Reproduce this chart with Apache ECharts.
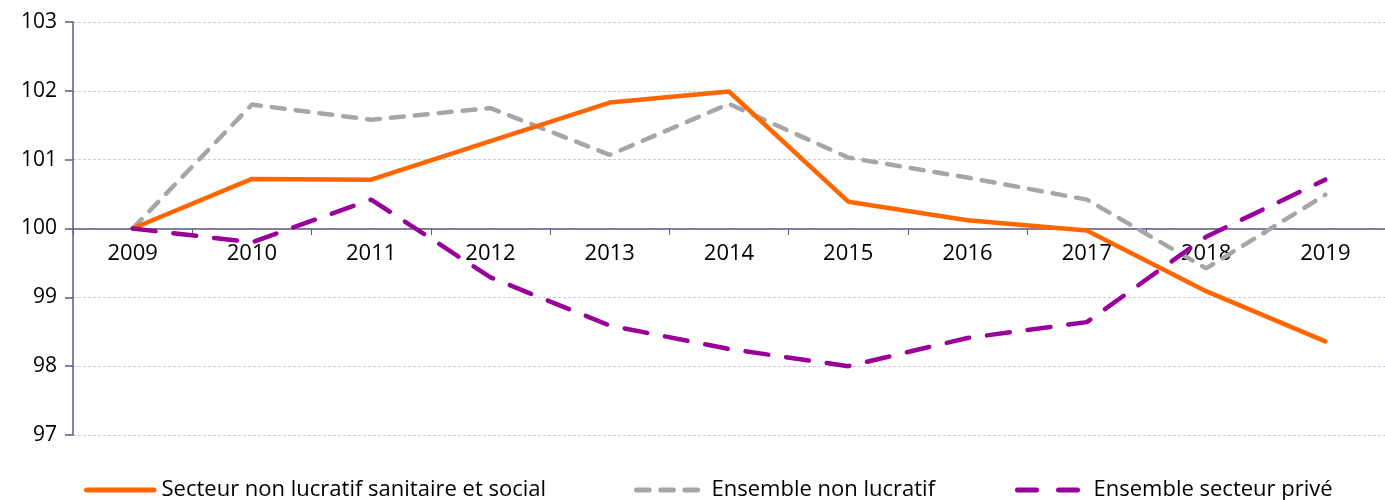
<!DOCTYPE html>
<html>
<head>
    <meta charset="utf-8">
    <title>Indices</title>
    <script src="https://cdn.jsdelivr.net/npm/echarts@6/dist/echarts.min.js"></script>
    <style>
        html, body { margin: 0; padding: 0; background: #fff; }
        #chart { width: 1385px; height: 500px; }
    </style>
</head>
<body>
    <div id="chart"></div>
    <script>
        const years = ['2009', '2010', '2011', '2012', '2013', '2014', '2015', '2016', '2017', '2018', '2019'];
        const sanitaireSocial = [100, 100.72, 100.71, 101.27, 101.83, 101.99, 100.39, 100.12, 99.97, 99.09, 98.36];
        const nonLucratif = [100, 101.80, 101.58, 101.75, 101.07, 101.81, 101.03, 100.74, 100.42, 99.42, 100.49];
        const secteurPrive = [100, 99.80, 100.42, 99.29, 98.59, 98.25, 98.00, 98.41, 98.64, 99.88, 100.71];
        const names = ['Secteur non lucratif sanitaire et social', 'Ensemble non lucratif', 'Ensemble secteur privé'];

        const font = '"Open Sans", "Noto Sans", sans-serif';
        const axisColor = '#5b5b86';

        const chart = echarts.init(document.getElementById('chart'));

        // one legend block per series so each icon sits where the original has it
        function legendAt(name, left, width, dash) {
            return {
                data: [name],
                left: left,
                top: 479,
                padding: 0,
                itemWidth: width,
                itemHeight: 14,
                itemStyle: { opacity: 0 },
                lineStyle: { width: 5, cap: 'round', type: dash },
                textStyle: { color: '#000', fontSize: 22, fontFamily: font }
            };
        }

        const option = {
            animation: false,
            grid: { left: 73, right: -6, top: 22, bottom: 65 },
            legend: [
                legendAt(names[0], 84, 70, [67.5, 60]),
                legendAt(names[1], 634, 70, [12.7, 11.5]),
                legendAt(names[2], 1015, 71, [19, 22])
            ],
            xAxis: {
                type: 'category',
                data: years,
                boundaryGap: true,
                offset: -206,
                axisLine: { onZero: false, lineStyle: { color: axisColor, width: 1.5 } },
                axisTick: { show: true, length: 6, lineStyle: { color: axisColor } },
                axisLabel: { color: '#000', fontSize: 22, fontFamily: font, margin: 14 },
                splitLine: { show: false }
            },
            yAxis: {
                type: 'value',
                min: 97,
                max: 103,
                interval: 1,
                axisLine: { show: true, lineStyle: { color: axisColor, width: 1.5 } },
                axisTick: { show: true, length: 8, lineStyle: { color: axisColor, width: 1.5 } },
                axisLabel: { color: '#000', fontSize: 21, fontFamily: font, margin: 16 },
                splitLine: { lineStyle: { color: '#c9c9e2', type: [3, 2], width: 1 } }
            },
            series: [
                {
                    name: names[0],
                    type: 'line',
                    data: sanitaireSocial,
                    symbol: 'none',
                    color: '#ff6600',
                    lineStyle: { width: 4.5, cap: 'round' },
                    z: 3
                },
                {
                    name: names[1],
                    type: 'line',
                    data: nonLucratif,
                    symbol: 'none',
                    color: '#a6a6a6',
                    lineStyle: { width: 4.5, type: [13, 11], cap: 'round' },
                    z: 2
                },
                {
                    name: names[2],
                    type: 'line',
                    data: secteurPrive,
                    symbol: 'none',
                    color: '#990099',
                    lineStyle: { width: 4.5, type: [23, 18], cap: 'round' },
                    z: 4
                }
            ]
        };
        chart.setOption(option);
    </script>
</body>
</html>
